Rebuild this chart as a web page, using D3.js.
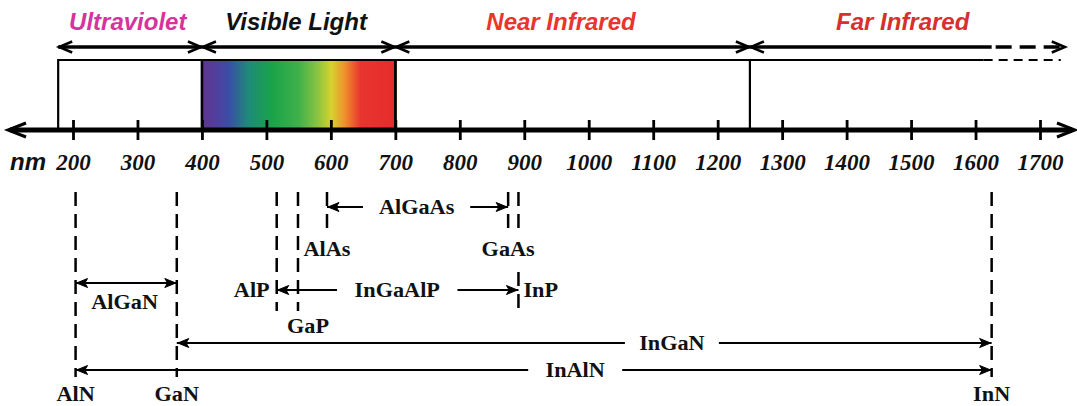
<!DOCTYPE html>
<html>
<head>
<meta charset="utf-8">
<script src="https://cdn.jsdelivr.net/npm/d3@7"></script>
<style>
  html, body { margin: 0; padding: 0; background: #fff; }
  svg { display: block; }
</style>
</head>
<body>
<svg id="chart" width="1077" height="406"></svg>
<script>
// Wavelength axis ticks (nm)
const tickValues = [200, 300, 400, 500, 600, 700, 800, 900, 1000, 1100, 1200, 1300, 1400, 1500, 1600, 1700];

// Spectral bands: names, start / end wavelengths (nm), colours
const bandNames  = ["Ultraviolet", "Visible Light", "Near Infrared", "Far Infrared"];
const bandStart  = [177, 400, 700, 1250];
const bandEnd    = [400, 700, 1250, 1740];
const bandColors = ["#d4349c", "#111111", "#e8352f", "#d6302f"];
const bandTitleNm = [285, 546, 957, 1487];   // where each band title is centred
const farSolidEnd = 1625;   // beyond this the far-infrared band is drawn dashed

// Binary compounds and their band-edge wavelengths (nm)
const compounds   = ["AlN", "GaN", "AlP", "GaP", "AlAs", "GaAs", "InP", "InN"];
const compoundNm  = [204, 361, 516, 549, 594, 875, 891, 1625];

// Alloy ranges: alloy name, from compound, to compound, label position (nm)
const alloyNames = ["AlGaN", "AlGaAs", "InGaAlP", "InGaN", "InAlN"];
const alloyFrom  = ["AlN", "AlAs", "AlP", "GaN", "AlN"];
const alloyTo    = ["GaN", "GaAs", "InP", "InN", "InN"];
const alloyLabelNm = [280, 733, 703, 1129, 979];

// Visible spectrum colour stops
const spectrumOffsets = [0, 0.06, 0.14, 0.24, 0.36, 0.50, 0.60, 0.67, 0.74, 0.82, 1];
const spectrumColors  = ["#5c3590", "#553c9c", "#3a4ea6", "#1e8a7a", "#1aa34a", "#3fb04a", "#8cc441", "#d6d22e", "#ef8f2c", "#e8352e", "#e52c2c"];

const svg = d3.select("#chart");
const x = d3.scaleLinear().domain([200, 1700]).range([73, 1040]);

const serif = "'Liberation Serif', 'Times New Roman', serif";
const sans  = "'Liberation Sans', Arial, sans-serif";

// ----- layout constants -----
const axisY = 130, boxTop = 60, bandArrowY = 47, titleY = 30;

// gradient for the visible band
const grad = svg.append("defs").append("linearGradient")
  .attr("id", "spectrum").attr("x1", "0").attr("x2", "1").attr("y1", "0").attr("y2", "0");
spectrumOffsets.forEach((o, i) => grad.append("stop").attr("offset", o).attr("stop-color", spectrumColors[i]));

// open "V" arrow head: tip at (tx, ty), pointing in dir (+1 right, -1 left)
function openHead(g, tx, ty, dir, len, half, w) {
  g.append("path")
    .attr("d", `M${tx - dir * len},${ty - half} L${tx},${ty} L${tx - dir * len},${ty + half}`)
    .attr("fill", "none").attr("stroke", "#000").attr("stroke-width", w)
    .attr("stroke-linejoin", "miter").attr("stroke-linecap", "butt");
}
// small solid arrow head
function solidHead(g, tx, ty, dir, len, half) {
  g.append("path")
    .attr("d", `M${tx},${ty} L${tx - dir * len},${ty - half} L${tx - dir * len * 0.75},${ty} L${tx - dir * len},${ty + half} Z`)
    .attr("fill", "#000").attr("stroke", "#000").attr("stroke-width", 1);
}
// bold serif label, slightly widened
const labelSize = 21, labelStretch = 1.06;
function label(g, text, tx, ty, anchor) {
  g.append("text")
    .attr("transform", `translate(${tx},${ty}) scale(${labelStretch},1)`)
    .attr("text-anchor", anchor)
    .attr("font-family", serif).attr("font-weight", "bold")
    .attr("font-size", labelSize).attr("fill", "#111")
    .text(text);
}

// ----- band boxes -----
const bands = svg.append("g");
// visible band filled with spectrum
bands.append("rect")
  .attr("x", x(bandStart[1])).attr("y", boxTop)
  .attr("width", x(bandEnd[1]) - x(bandStart[1])).attr("height", axisY - boxTop)
  .attr("fill", "url(#spectrum)");
// top outline: solid, then dashed beyond farSolidEnd
bands.append("line")
  .attr("x1", x(bandStart[0])).attr("x2", x(farSolidEnd) - 8)
  .attr("y1", boxTop).attr("y2", boxTop)
  .attr("stroke", "#000").attr("stroke-width", 2.2);
bands.append("line")
  .attr("x1", x(farSolidEnd) - 8).attr("x2", x(bandEnd[3]) - 5)
  .attr("y1", boxTop).attr("y2", boxTop)
  .attr("stroke", "#000").attr("stroke-width", 2.2).attr("stroke-dasharray", "9,6");
// vertical band boundaries
bandStart.concat([700]).forEach(v => {
  bands.append("line")
    .attr("x1", x(v)).attr("x2", x(v)).attr("y1", boxTop - 1).attr("y2", axisY)
    .attr("stroke", "#000").attr("stroke-width", v === 400 || v === 700 ? 2.6 : 2.2);
});

// ----- band range arrows and titles -----
const arrows = svg.append("g");
bandNames.forEach((name, i) => {
  const x0 = x(bandStart[i]);
  const x1 = x(bandEnd[i]);
  if (i === 3) {
    const xs = x(farSolidEnd);
    arrows.append("line").attr("x1", x0).attr("x2", xs).attr("y1", bandArrowY).attr("y2", bandArrowY)
      .attr("stroke", "#000").attr("stroke-width", 3.4);
    arrows.append("line").attr("x1", xs).attr("x2", x1 - 2).attr("y1", bandArrowY).attr("y2", bandArrowY)
      .attr("stroke", "#000").attr("stroke-width", 3.4).attr("stroke-dasharray", "16,8").attr("stroke-dashoffset", -4);
  } else {
    arrows.append("line").attr("x1", x0).attr("x2", x1).attr("y1", bandArrowY).attr("y2", bandArrowY)
      .attr("stroke", "#000").attr("stroke-width", 3.4);
  }
  openHead(arrows, x0 + 1, bandArrowY, -1, 13, 5.5, 2.6);
  openHead(arrows, x1 - 1, bandArrowY, 1, 13, 5.5, 2.6);

  arrows.append("text")
    .attr("x", x(bandTitleNm[i])).attr("y", titleY)
    .attr("text-anchor", "middle")
    .attr("font-family", sans).attr("font-weight", "bold").attr("font-style", "italic")
    .attr("font-size", 24).attr("fill", bandColors[i])
    .text(name);
});

// ----- wavelength axis -----
const axisG = svg.append("g").attr("transform", `translate(0,${axisY})`);
axisG.append("line")
  .attr("x1", 10).attr("x2", 1072).attr("y1", 0).attr("y2", 0)
  .attr("stroke", "#000").attr("stroke-width", 4.8);
openHead(axisG, 8, 0, -1, 18, 7, 3);
openHead(axisG, 1075, 0, 1, 18, 7, 3);

const axis = d3.axisBottom(x).tickValues(tickValues).tickSize(10).tickFormat(d3.format("d"));
const ax = axisG.append("g").call(axis);
ax.select(".domain").remove();
ax.selectAll(".tick line").attr("y1", -10).attr("y2", 10).attr("stroke", "#000").attr("stroke-width", 2.8);
ax.selectAll(".tick text")
  .attr("y", 40).attr("dy", null)
  .attr("font-family", serif).attr("font-weight", "bold").attr("font-style", "italic")
  .attr("font-size", 23).attr("fill", "#111");
svg.append("text")
  .attr("x", 10).attr("y", axisY + 40)
  .attr("font-family", sans).attr("font-weight", "bold").attr("font-style", "italic")
  .attr("font-size", 24).attr("fill", "#111")
  .text("nm");

// ----- compounds: dashed markers and labels -----
const nmOf = name => compoundNm[compounds.indexOf(name)];
// vertical extent(s) of each dashed marker
const markSegments = {
  AlN: [[192, 377]], GaN: [[192, 377]], InN: [[192, 377]],
  AlP: [[192, 311]], GaP: [[192, 311]],
  AlAs: [[192, 231]], GaAs: [[192, 231]],
  InP: [[192, 231], [272, 311]]
};
const markLabel = {
  AlN:  { dx: 0,  y: 401, anchor: "middle" },
  GaN:  { dx: 0,  y: 401, anchor: "middle" },
  InN:  { dx: 0,  y: 401, anchor: "middle" },
  AlAs: { dx: 0,  y: 256, anchor: "middle" },
  GaAs: { dx: 0,  y: 256, anchor: "middle" },
  GaP:  { dx: 10, y: 333, anchor: "middle" },
  AlP:  { dx: -7, y: 297, anchor: "end" },
  InP:  { dx: 5,  y: 297, anchor: "start" }
};
const comp = svg.append("g");
compounds.forEach((name, i) => {
  const cx = x(compoundNm[i]);
  markSegments[name].forEach(([y0, y1]) => {
    comp.append("line")
      .attr("x1", cx).attr("x2", cx).attr("y1", y0).attr("y2", y1)
      .attr("stroke", "#000").attr("stroke-width", 2.5).attr("stroke-dasharray", "14,8");
  });
  const L = markLabel[name];
  label(comp, name, cx + L.dx, L.y, L.anchor);
});

// ----- alloy ranges -----
const alloyY = { AlGaN: 283, AlGaAs: 207, InGaAlP: 290, InGaN: 343, InAlN: 370 };
const alloys = svg.append("g");
alloyNames.forEach((name, i) => {
  const x0 = x(nmOf(alloyFrom[i]));
  const x1 = x(nmOf(alloyTo[i]));
  const y = alloyY[name];
  const cx = x(alloyLabelNm[i]);
  if (name === "AlGaN") {
    // label sits under the arrow
    alloys.append("line").attr("x1", x0).attr("x2", x1).attr("y1", y).attr("y2", y)
      .attr("stroke", "#000").attr("stroke-width", 2.2);
    label(alloys, name, cx, y + 26, "middle");
  } else {
    const half = name.length * 6.6 + 14;
    alloys.append("line").attr("x1", x0).attr("x2", cx - half).attr("y1", y).attr("y2", y)
      .attr("stroke", "#000").attr("stroke-width", 2.2);
    alloys.append("line").attr("x1", cx + half).attr("x2", x1).attr("y1", y).attr("y2", y)
      .attr("stroke", "#000").attr("stroke-width", 2.2);
    label(alloys, name, cx, y + 7, "middle");
  }
  solidHead(alloys, x0 + 1, y, -1, 11, 4.5);
  solidHead(alloys, x1 - 1, y, 1, 11, 4.5);
});
</script>
</body>
</html>
